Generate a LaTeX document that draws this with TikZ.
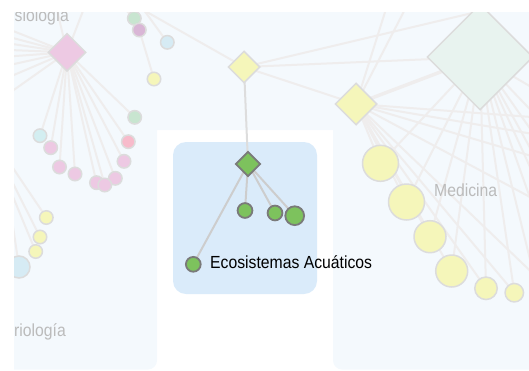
\documentclass[tikz,border=0pt]{standalone}
\usepackage{fontspec}
\setmainfont{Liberation Sans}
\usetikzlibrary{shapes.geometric}
\definecolor{panelbg}{HTML}{F4F9FD}
\definecolor{bluebox}{HTML}{DAEBFA}
\definecolor{edgec}{HTML}{EFEDED}
\definecolor{fadeborder}{HTML}{DCDCDC}
\definecolor{pinkf}{HTML}{EDC9E3}
\definecolor{purplef}{HTML}{D9B6D6}
\definecolor{mintf}{HTML}{C8E5D0}
\definecolor{skyf}{HTML}{D6EBF4}
\definecolor{yellowf}{HTML}{F5F6BA}
\definecolor{redf}{HTML}{F7BBCB}
\definecolor{cyanf}{HTML}{D3EEF1}
\definecolor{bigf}{HTML}{E8F3EF}
\definecolor{greenf}{HTML}{7DC25D}
\definecolor{greenb}{HTML}{7A7A7A}
\definecolor{gline}{HTML}{CDCDCD}
\definecolor{vline}{HTML}{DDDDDD}
\definecolor{labgray}{HTML}{BBBBBB}
\begin{document}
\begin{tikzpicture}[x=1pt,y=-1pt,
  fc/.style={circle, draw=fadeborder, line width=1.5pt, inner sep=0pt, minimum size=#1},
  fd/.style={diamond, aspect=1, draw=fadeborder, line width=1.5pt, inner sep=0pt, minimum size=#1},
  gc/.style={circle, draw=greenb, fill=greenf, line width=1.8pt, inner sep=0pt, minimum size=#1},
  gd/.style={diamond, aspect=1, draw=greenb, fill=greenf, line width=1.8pt, inner sep=0pt, minimum size=#1},
  fedge/.style={draw=edgec, line width=2pt},
  wedge/.style={draw=edgec, line width=3.5pt},
  gedge/.style={draw=gline, line width=2pt},
  lab/.style={anchor=base west, inner sep=0pt, font=\fontsize{17.5}{18}\selectfont}]
\useasboundingbox (0,0) rectangle (529,370);
\clip (14,12) rectangle (529,370);
% panels
\fill[panelbg, rounded corners=9pt] (0,0) rectangle (157,369.5)
  (0,0) rectangle (545,130) (333,0) rectangle (545,369.5);
\fill[bluebox, rounded corners=13pt] (173,142) rectangle (317,294);
% node centres
\coordinate (P) at (67,52.3);
\coordinate (D) at (480,57);
\coordinate (Y1) at (244,67);
\coordinate (Y2) at (356,104);
\coordinate (G) at (248,164);
\coordinate (c1) at (134.3,18.3);
\coordinate (c2) at (139.3,30);
\coordinate (c3) at (167.3,42.3);
\coordinate (c4) at (154,79);
\coordinate (c5) at (134.7,117.3);
\coordinate (c6) at (40,135.7);
\coordinate (c7) at (50.7,147.7);
\coordinate (c8) at (128.3,141.7);
\coordinate (c9) at (124,161.3);
\coordinate (c10) at (59.5,167);
\coordinate (c11) at (75,174);
\coordinate (c12) at (115.3,178.3);
\coordinate (c13) at (96.5,182.7);
\coordinate (c14) at (104.8,185);
\coordinate (yb1) at (46.3,217.5);
\coordinate (yb2) at (40,237);
\coordinate (yb3) at (35.7,251.5);
\coordinate (bb) at (19,267);
\coordinate (r1) at (380.5,163.3);
\coordinate (r2) at (406.5,202);
\coordinate (r3) at (430,236.7);
\coordinate (r4) at (451.7,271);
\coordinate (r5) at (486,288.3);
\coordinate (r6) at (514.3,292.7);
\coordinate (g1) at (245,210.5);
\coordinate (g2) at (275,213);
\coordinate (g3) at (294.7,215.7);
\coordinate (g4) at (193.3,264.3);
% off-picture ends
\coordinate (pl1) at (-40,10);
\coordinate (pl2) at (-40,24);
\coordinate (pl3) at (-40,36);
\coordinate (pl4) at (-40,48);
\coordinate (pl5) at (-40,60);
\coordinate (pl6) at (-40,76);
\coordinate (pl7) at (-40,98);
\coordinate (pl8) at (-40,128);
\coordinate (pu1) at (50,-20);
\coordinate (pu2) at (95,-20);
\coordinate (ll) at (-18,122);
\coordinate (lb) at (-2,125);
\coordinate (cu1) at (100,-15);
\coordinate (cu2) at (114,-15);
\coordinate (cu3) at (128,-12);
\coordinate (t1) at (540,-3);
\coordinate (t2) at (108,-10);
\coordinate (t3) at (392,-10);
\coordinate (t4) at (415,-10);
\coordinate (q1) at (545,118);
\coordinate (q2) at (545,136);
\coordinate (q3) at (545,160);
\coordinate (q4) at (545,205);
\coordinate (q5) at (545,285);
\coordinate (q6) at (545,95);
\coordinate (q7) at (545,125);
\coordinate (q8) at (545,175);
\coordinate (q9) at (545,240);
\coordinate (q10) at (545,320);
\coordinate (q11) at (545,150);
\coordinate (q12) at (545,200);
% faded edges, left cluster
\foreach \t in {c5,c6,c7,c8,c9,c10,c11,c12,c13,c14,pl1,pl2,pl3,pl4,pl5,pl6,pl7,pl8,pu1,pu2}
  \draw[fedge] (P) -- (\t);
\draw[fedge] (c2) -- (c4);
\draw[fedge] (c1) -- (cu1);
\draw[fedge] (c1) -- (cu2);
\draw[fedge] (c3) -- (cu3);
\draw[fedge] (ll) -- (yb1);
\draw[fedge] (ll) -- (yb2);
\draw[fedge] (ll) -- (yb3);
\draw[fedge] (lb) -- (bb);
% faded edges, right cluster
\draw[fedge] (Y1) -- (D);
\draw[fedge] (Y1) -- (t1);
\draw[fedge] (Y1) -- (t2);
\draw[fedge] (Y1) -- (Y2);
\draw[fedge] (Y2) -- (t3);
\draw[fedge] (Y2) -- (t4);
\draw[wedge] (Y2) -- (D);
\foreach \t in {r1,r2,r3,r4,r5,r6,q1,q2,q3,q4,q5}
  \draw[fedge] (Y2) -- (\t);
\foreach \t in {r1,r2,r3,r4,r5,r6,q6,q7,q8,q9,q10,q11,q12}
  \draw[fedge] (D) -- (\t);
% green edges
\draw[draw=vline, line width=2pt] (Y1) -- (G);
\foreach \t in {g1,g2,g3,g4}
  \draw[gedge] (G) -- (\t);
% faded nodes
\node[fd=38pt, fill=pinkf] (nP) at (P) {};
\node[fd=106pt, fill=bigf] (nD) at (D) {};
\node[fd=32pt, fill=yellowf] (nY1) at (Y1) {};
\node[fd=42pt, fill=yellowf] (nY2) at (Y2) {};
\node[fc=13.5pt, fill=mintf] (nc1) at (c1) {};
\node[fc=13.5pt, fill=purplef] (nc2) at (c2) {};
\node[fc=13.5pt, fill=skyf] (nc3) at (c3) {};
\node[fc=13.5pt, fill=yellowf] (nc4) at (c4) {};
\node[fc=13.5pt, fill=mintf] (nc5) at (c5) {};
\node[fc=13.5pt, fill=cyanf] (nc6) at (c6) {};
\node[fc=13.5pt, fill=pinkf] (nc7) at (c7) {};
\node[fc=13.5pt, fill=redf] (nc8) at (c8) {};
\node[fc=13.5pt, fill=pinkf] (nc9) at (c9) {};
\node[fc=13.5pt, fill=pinkf] (nc10) at (c10) {};
\node[fc=13.5pt, fill=pinkf] (nc11) at (c11) {};
\node[fc=13.5pt, fill=pinkf] (nc12) at (c12) {};
\node[fc=13.5pt, fill=pinkf] (nc13) at (c13) {};
\node[fc=13.5pt, fill=pinkf] (nc14) at (c14) {};
\node[fc=13.5pt, fill=yellowf] (nyb1) at (yb1) {};
\node[fc=13.5pt, fill=yellowf] (nyb2) at (yb2) {};
\node[fc=13.5pt, fill=yellowf] (nyb3) at (yb3) {};
\node[fc=22pt, fill=skyf] (nbb) at (bb) {};
\node[fc=36pt, fill=yellowf] (nr1) at (r1) {};
\node[fc=36pt, fill=yellowf] (nr2) at (r2) {};
\node[fc=32pt, fill=yellowf] (nr3) at (r3) {};
\node[fc=32pt, fill=yellowf] (nr4) at (r4) {};
\node[fc=22.5pt, fill=yellowf] (nr5) at (r5) {};
\node[fc=18.5pt, fill=yellowf] (nr6) at (r6) {};
% green nodes
\node[gd=25pt] (nG) at (G) {};
\node[gc=14.8pt] (ng1) at (g1) {};
\node[gc=14.8pt] (ng2) at (g2) {};
\node[gc=18.8pt] (ng3) at (g3) {};
\node[gc=14.8pt] (ng4) at (g4) {};
% labels
\node[lab, text=black] (eco) at (210,268.3) {\scalebox{0.9}[1]{Ecosistemas Acuáticos}};
\node[lab, text=labgray] (med) at (434,196) {\scalebox{0.9}[1]{Medicina}};
\node[lab, text=labgray] (fis) at (14.5,21) {\scalebox{0.9}[1]{siología}};
\node[lab, text=labgray] (bac) at (14,336) {\scalebox{0.9}[1]{riología}};
\end{tikzpicture}
\end{document}
